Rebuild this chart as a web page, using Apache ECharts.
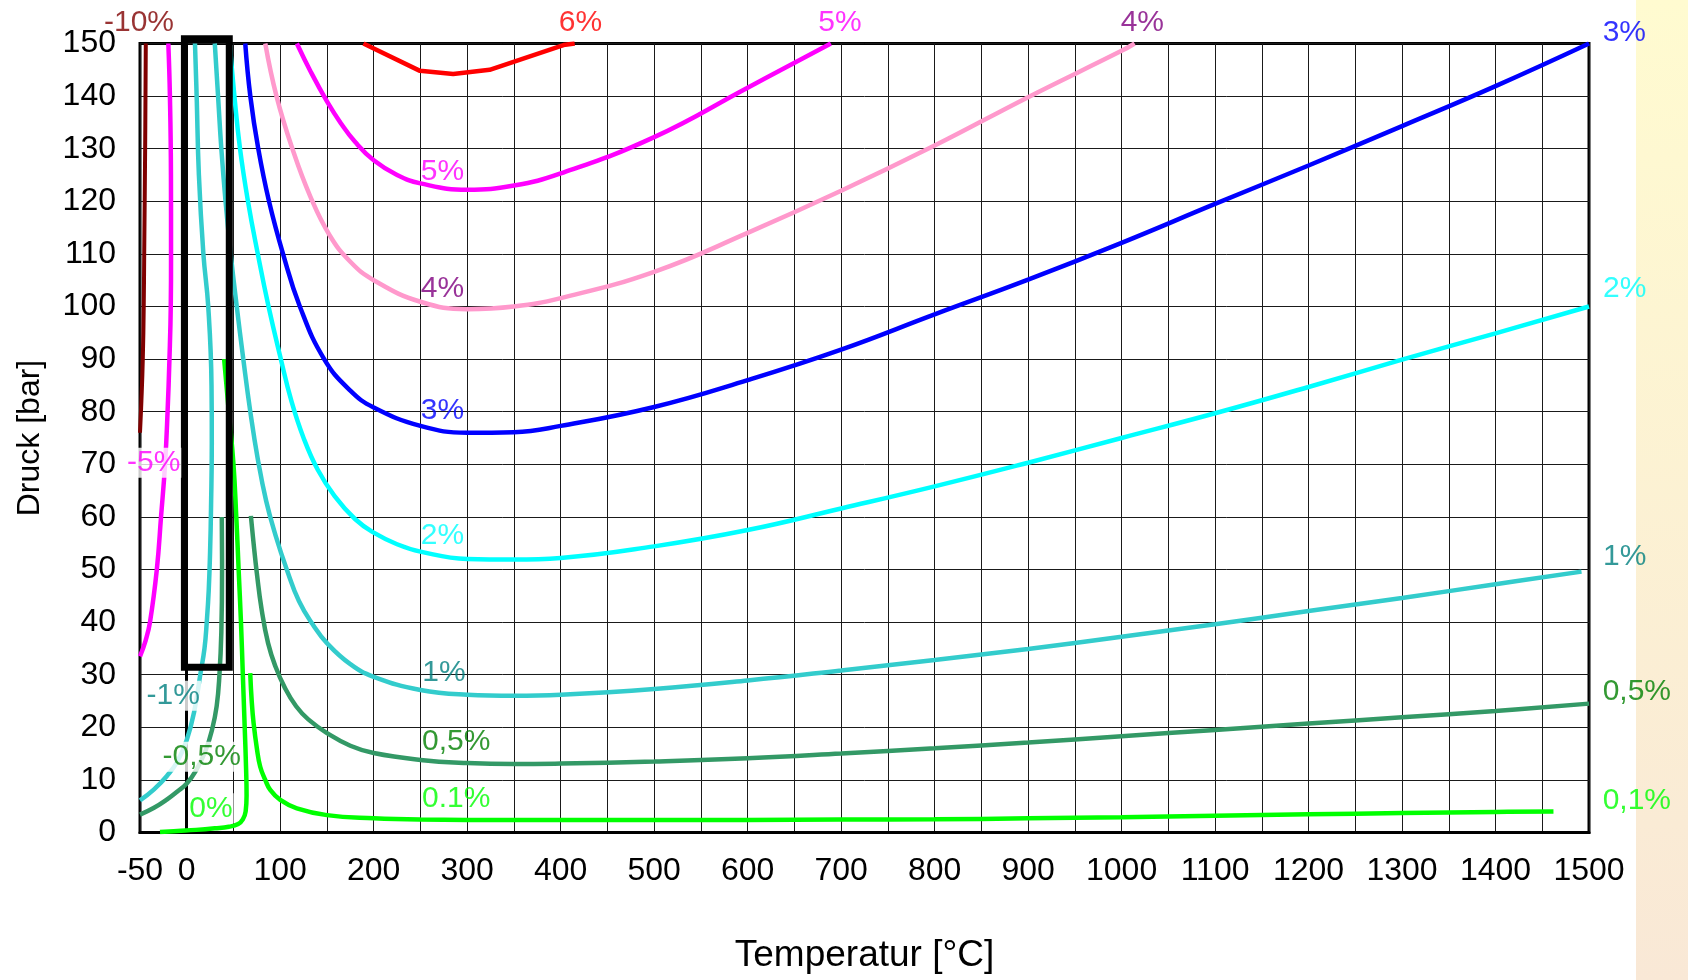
<!DOCTYPE html>
<html>
<head>
<meta charset="utf-8">
<script src="https://cdn.jsdelivr.net/npm/echarts@6/dist/echarts.min.js"></script>
<style>
html,body{margin:0;padding:0;background:#fff;}
#chart{width:1688px;height:980px;}
</style>
</head>
<body>
<div id="chart"></div>
<script>
// ---------- data ----------
const xTickLabels = [-50,0,100,200,300,400,500,600,700,800,900,1000,1100,1200,1300,1400,1500];

const curveMinus10 = [[-43.8,150],[-44.5,130],[-45.5,110],[-46,100],[-47,90],[-48.5,82],[-50,76]];
const curveMinus5 = [[-19.7,150],[-18,140],[-16.9,125],[-16.8,110],[-17.1,100],[-18.5,90],[-20.5,80],[-23.2,70],[-27.5,60],[-32,50],[-39.3,40],[-44,36.5],[-50,33.5]];
const curveMinus1 = [[8.8,150],[10.6,140],[13,125],[17.8,110],[23,100],[26.5,85],[26.8,74],[26,62],[25,53.6],[23.5,46],[21.4,40],[19,35],[14.3,29.8],[8,23],[0,17.6],[-10,13.5],[-21,10.8],[-35,8.2],[-50,6.1]];
const curveMinus05 = [[37.5,60],[37.8,50],[37,38],[35,30],[32,24],[27,19.5],[20,15.5],[10,11.8],[0,9.3],[-10,7.8],[-21,6.3],[-35,4.7],[-50,3.4]];
const curveZero = [[40,90],[45,80],[50,70],[53,60],[55.5,50],[58,40],[60,30],[62,20],[63.5,12],[64,7],[63,4],[60,2.5],[55,1.6],[45,1.1],[30,0.8],[10,0.5],[-10,0.3],[-28.6,0.1]];
const curve01 = [[67.9,30.3],[69.5,25],[71.5,20.8],[75,16],[78.6,12.5],[84,10],[89.3,8.1],[100,6.2],[117.8,4.6],[150,3.3],[200,2.7],[250,2.45],[300,2.4],[400,2.4],[500,2.4],[600,2.4],[700,2.45],[800,2.5],[900,2.7],[1000,2.9],[1100,3.2],[1200,3.45],[1300,3.7],[1400,3.9],[1462,4]];
const curve05 = [[68.6,60.2],[71.5,55],[75,49.3],[80,42.5],[87,36],[95,31.5],[105,27.5],[117,24],[130,21.5],[150,18.9],[175,16.5],[200,15.1],[250,13.8],[300,13.2],[350,13],[400,13.1],[500,13.5],[600,14.1],[700,15],[800,16],[900,17.1],[1000,18.3],[1100,19.5],[1200,20.7],[1300,21.9],[1400,23.1],[1500,24.5]];
const curve1 = [[30,150],[33.5,140],[37,130],[41.5,120],[47,110],[53.5,100],[60.5,90],[68,80],[76,71],[85,63],[95,56.5],[107,50],[120,44],[135,39.5],[150,36],[175,32],[200,29.6],[250,27.1],[300,26.2],[350,26],[400,26.2],[500,27.3],[600,28.9],[700,30.8],[800,32.8],[900,34.9],[1000,37.2],[1100,39.6],[1200,42.1],[1300,44.6],[1400,47.2],[1492,49.6]];
const curve2 = [[46,150],[51,140],[57,130],[65.5,120],[76,110],[87.5,100],[100,90.5],[112,82],[125,75],[140,69],[158,64],[180,59.6],[200,57],[225,54.8],[250,53.4],[300,52],[350,51.9],[400,52.2],[500,54.4],[600,57.5],[700,61.6],[800,65.8],[900,70.3],[1000,75],[1100,79.7],[1200,84.7],[1300,89.9],[1400,94.9],[1500,100]];
const curve3 = [[62.6,150],[68,140],[76.5,130],[88,120],[103,110],[121,100],[147,90],[175,84],[200,80.8],[250,77.3],[300,76],[350,76.1],[400,77.3],[500,80.9],[600,86],[700,91.8],[800,98.5],[900,105.1],[1000,112.1],[1100,119.5],[1200,126.8],[1300,134.3],[1400,141.9],[1500,150]];
const curve4 = [[84,150],[96,140],[113,130],[132,121],[153,113.5],[175,108.5],[200,105],[250,100.9],[300,99.5],[350,100],[400,101.6],[500,106.6],[600,114],[700,122],[800,130.6],[900,139.8],[1000,148.6],[1014,150]];
const curve5 = [[117.8,150],[133,144.5],[150,139],[165,134.8],[180,131.3],[200,127.8],[225,125],[250,123.4],[300,122.2],[350,123],[400,125.3],[500,132.2],[600,141.6],[689,150]];
const curve6 = [[189,150],[249.5,144.8],[285,144.2],[324,145],[403,149.7],[415,150]];

const boxOutline = [[20,31.4],[45.5,31.4],[45.5,150.9],[-2.5,150.9],[-2.5,31.4],[20,31.4]];

const labelTexts = ['-10%','6%','5%','4%','3%','5%','4%','3%','2%','1%','0,5%','0.1%','2%','1%','0,5%','0,1%','-5%','-1%','-0,5%','0%'];
const labelAnchors = [[-88.5,154],[398,154],[675.6,154],[999,154],[1514.6,152],[250.3,125.6],[250.3,103.3],[250.3,80.2],[250.3,56.5],[252,30.4],[251.6,17.2],[251.6,6.4],[1515,103.3],[1515,52.4],[1514.6,26.7],[1514.6,6],[-65,70.3],[-44,26],[-27,14.4],[1.7,4.6]];

// ---------- styling ----------
const FONT = '"Liberation Sans", Arial, sans-serif';
const curves = [
  {d: curveMinus10, c: '#800000', w: 4},
  {d: curveMinus5,  c: '#FF00FF', w: 4.5},
  {d: curveMinus1,  c: '#33CCCC', w: 4.5},
  {d: curveMinus05, c: '#339966', w: 4.5},
  {d: curveZero,    c: '#00FF00', w: 4.5},
  {d: curve01,      c: '#00FF00', w: 4.5},
  {d: curve05,      c: '#339966', w: 4.5},
  {d: curve1,       c: '#33CCCC', w: 4.5},
  {d: curve2,       c: '#00FFFF', w: 4.5},
  {d: curve3,       c: '#0000FF', w: 4.5},
  {d: curve4,       c: '#FF99CC', w: 4.5},
  {d: curve5,       c: '#FF00FF', w: 4.5},
  {d: curve6,       c: '#FF0000', w: 4.5, straight: true}
];
const labelColors = {'-10%':'#800000','6%':'#FF0000','5%':'#FF00FF','-5%':'#FF00FF','4%':'#800080','3%':'#0000FF','2%':'#00FFFF','1%':'#008080','-1%':'#008080','0,5%':'#008000','-0,5%':'#008000','0.1%':'#00FF00','0,1%':'#00FF00','0%':'#00FF00'};
const whiteBg = ['-5%','-1%','-0,5%','0%'];

const series = curves.map(s => ({
  type: 'line', data: s.d, showSymbol: false, smooth: s.straight ? false : 0.45,
  lineStyle: {color: s.c, width: s.w}, z: 3, silent: true
}));
series.push({
  type: 'line', data: boxOutline, showSymbol: false, clip: false, z: 4, silent: true,
  lineStyle: {color: '#000', width: 7, join: 'miter', cap: 'square'}
});
series.push({
  type: 'scatter', clip: false, z: 6, silent: true, symbolSize: 0,
  itemStyle: {color: 'rgba(0,0,0,0)'},
  data: labelTexts.map((t, i) => ({
    value: labelAnchors[i],
    label: {
      show: true, formatter: t, position: [0, 0], align: 'left', verticalAlign: 'middle',
      color: labelColors[t], fontSize: 30, fontFamily: FONT,
      backgroundColor: whiteBg.includes(t) ? '#fff' : 'transparent',
      padding: whiteBg.includes(t) ? [0, 1] : 0
    }
  }))
});

const chart = echarts.init(document.getElementById('chart'), null, {renderer: 'canvas'});
chart.setOption({
  backgroundColor: '#fff',
  animation: false,
  textStyle: {fontFamily: FONT},
  graphic: [{
    type: 'rect', left: 1636, top: 0, z: -1,
    shape: {width: 52, height: 980},
    style: {fill: new echarts.graphic.LinearGradient(0, 0, 0, 1, [
      {offset: 0, color: '#FFFBD0'}, {offset: 1, color: '#F9E8D6'}
    ])}
  }],
  grid: {left: 140, right: 99, top: 43.5, bottom: 147.5, show: true, borderColor: '#000', borderWidth: 3, backgroundColor: '#fff'},
  xAxis: {
    type: 'value', min: -50, max: 1500, interval: 50,
    name: 'Temperatur [°C]', nameLocation: 'middle', nameGap: 105,
    nameTextStyle: {fontSize: 37, color: '#000', fontFamily: FONT},
    axisLine: {show: true, lineStyle: {color: '#000', width: 3}},
    axisTick: {show: false},
    axisLabel: {fontSize: 32, color: '#000', margin: 23, fontFamily: FONT,
      formatter: v => xTickLabels.includes(v) ? String(v) : ''},
    splitLine: {show: true, lineStyle: {color: '#1a1a1a', width: 1}}
  },
  yAxis: {
    type: 'value', min: 0, max: 150, interval: 10,
    name: 'Druck [bar]', nameLocation: 'middle', nameGap: 94,
    nameTextStyle: {fontSize: 32, color: '#000', fontFamily: FONT},
    axisLine: {show: true, lineStyle: {color: '#000', width: 3}},
    axisTick: {show: false},
    axisLabel: {fontSize: 32, color: '#000', margin: 24, fontFamily: FONT},
    splitLine: {show: true, lineStyle: {color: '#1a1a1a', width: 1}}
  },
  series: series
});
</script>
</body>
</html>
